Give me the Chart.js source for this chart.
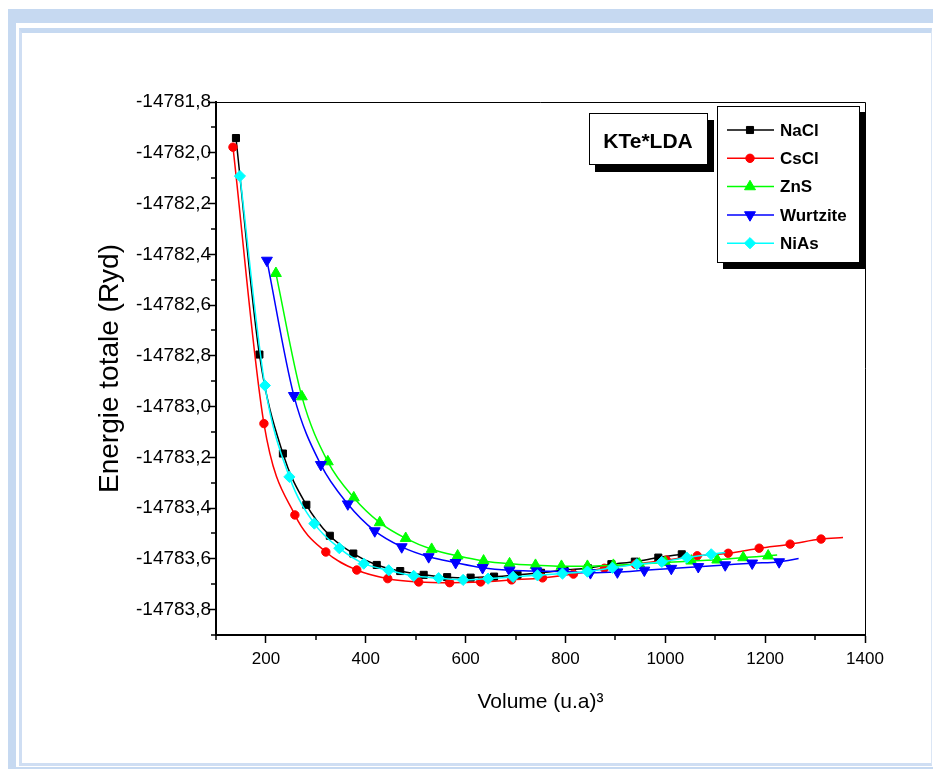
<!DOCTYPE html>
<html>
<head>
<meta charset="utf-8">
<script src="https://cdn.jsdelivr.net/npm/chart.js@4.4.1/dist/chart.umd.min.js"></script>
<style>
    html, body { margin: 0; padding: 0; background: #fff; }
    #page { position: relative; width: 933px; height: 769px; overflow: hidden; }
    .frame-outer { position: absolute; left: 8px; top: 9px; width: 940px; height: 800px;
        border-left: 8px solid #c6d9f1; border-top: 14px solid #c6d9f1; box-sizing: border-box; }
    .frame-bottom { position: absolute; left: 8px; top: 767px; width: 940px; height: 4px; background: #c6d9f1; }
    .frame-inner { position: absolute; left: 19px; top: 28px; width: 913px; height: 738px;
        border-left: 3px solid #cfdef3; border-top: 5px solid #c6d9f1; border-bottom: 3px solid #cfdef3;
        border-right: 1px solid #dbe6f5; box-sizing: border-box; }
    canvas { position: absolute; left: 0; top: 0; }
</style>
</head>
<body>
<div id="page">
    <div class="frame-outer"></div>
    <div class="frame-bottom"></div>
    <div class="frame-inner"></div>
    <canvas id="eos-chart" width="933" height="769"></canvas>
</div>
<script>
// Series names and volumes / energies
const seriesNames = ['NaCl', 'CsCl', 'ZnS', 'Wurtzite', 'NiAs'];

const naclV = [140, 187, 234, 281, 328, 375, 422, 469, 516, 563, 610, 657, 704, 751, 798, 845, 892, 939, 986, 1033];
const naclE = [-14781.942, -14782.795, -14783.185, -14783.387, -14783.509, -14783.579, -14783.624, -14783.648, -14783.663, -14783.672,
    -14783.674, -14783.670, -14783.663, -14783.655, -14783.644, -14783.637, -14783.621, -14783.611, -14783.595, -14783.582];

const csclV = [134, 196, 258, 320, 382, 444, 506, 568, 630, 692, 754, 816, 878, 940, 1002, 1064, 1126, 1188, 1250, 1312];
const csclE = [-14781.978, -14783.067, -14783.427, -14783.573, -14783.644, -14783.678, -14783.691, -14783.694, -14783.691, -14783.683,
    -14783.675, -14783.660, -14783.637, -14783.621, -14783.605, -14783.588, -14783.578, -14783.558, -14783.542, -14783.522];

const znsV = [220, 272, 324, 376, 428, 480, 532, 584, 636, 688, 740, 792, 844, 896, 948, 1000, 1052, 1104, 1156, 1206];
const znsE = [-14782.475, -14782.961, -14783.217, -14783.359, -14783.457, -14783.519, -14783.562, -14783.588, -14783.608, -14783.619,
    -14783.625, -14783.629, -14783.629, -14783.625, -14783.620, -14783.614, -14783.608, -14783.604, -14783.595, -14783.588];

const wurV = [202, 256, 310, 364, 418, 472, 526, 580, 634, 688, 742, 796, 850, 904, 958, 1012, 1066, 1120, 1174, 1228];
const wurE = [-14782.424, -14782.957, -14783.229, -14783.384, -14783.490, -14783.553, -14783.592, -14783.615, -14783.635, -14783.645,
    -14783.648, -14783.650, -14783.655, -14783.652, -14783.645, -14783.638, -14783.631, -14783.624, -14783.617, -14783.612];

const niasV = [148, 198, 247, 297, 347, 396, 446, 496, 546, 595, 645, 695, 744, 794, 844, 894, 943, 993, 1043, 1092];
const niasE = [-14782.092, -14782.917, -14783.277, -14783.461, -14783.558, -14783.619, -14783.645, -14783.667, -14783.676, -14783.683,
    -14783.678, -14783.671, -14783.665, -14783.658, -14783.650, -14783.635, -14783.621, -14783.612, -14783.595, -14783.582];

// where the fitted curves run on past the last marker (no marker drawn there)
const fitEndV = [null, 1356, 1224, 1267, 1120];
const fitEndE = [null, -14783.516, -14783.585, -14783.599, -14783.575];

// axis ticks
const xTicks = [200, 400, 600, 800, 1000, 1200, 1400];
const xMinorTicks = [100, 300, 500, 700, 900, 1100, 1300];
const yTicks = [-14781.8, -14782.0, -14782.2, -14782.4, -14782.6, -14782.8, -14783.0, -14783.2, -14783.4, -14783.6, -14783.8];
const yMinorTicks = [-14781.9, -14782.1, -14782.3, -14782.5, -14782.7, -14782.9, -14783.1, -14783.3, -14783.5, -14783.7, -14783.9];

const FONT = '"Liberation Sans", Arial, Helvetica, sans-serif';

function makePoints(vols, ens, endV, endE) {
    const pts = vols.map((v, i) => ({ x: v, y: ens[i] }));
    if (endV !== null) pts.push({ x: endV, y: endE });
    return pts;
}

const styles = [
    { color: '#000000', pointStyle: 'rect', radius: 5, rotation: 0 },
    { color: '#ff0000', pointStyle: 'circle', radius: 4.2, rotation: 0 },
    { color: '#00ff00', pointStyle: 'triangle', radius: 6.3, rotation: 0 },
    { color: '#0000ff', pointStyle: 'triangle', radius: 6.3, rotation: 180 },
    { color: '#00ffff', pointStyle: 'rectRot', radius: 5.6, rotation: 0 }
];
const allV = [naclV, csclV, znsV, wurV, niasV];
const allE = [naclE, csclE, znsE, wurE, niasE];

const datasets = seriesNames.map((name, i) => {
    const n = allV[i].length;
    const st = styles[i];
    return {
        label: name,
        data: makePoints(allV[i], allE[i], fitEndV[i], fitEndE[i]),
        borderColor: st.color,
        backgroundColor: st.color,
        borderWidth: 1.5,
        pointStyle: st.pointStyle,
        pointRotation: st.rotation,
        pointRadius: ctx => (ctx.dataIndex < n ? st.radius : 0),
        pointBorderWidth: 1,
        cubicInterpolationMode: 'monotone',
        fill: false,
        order: seriesNames.length - 1 - i
    };
});

// top/right frame lines, minor ticks, label box and legend
const decorPlugin = {
    id: 'decor',
    afterDraw(chart) {
        const ctx = chart.ctx;
        const area = chart.chartArea;
        const xs = chart.scales.x;
        const ys = chart.scales.y;
        ctx.save();
        ctx.strokeStyle = '#000';
        ctx.lineWidth = 1;
        ctx.beginPath();
        ctx.moveTo(area.left, area.top + 0.5);
        ctx.lineTo(area.right + 0.5, area.top + 0.5);
        ctx.lineTo(area.right + 0.5, area.bottom);
        ctx.stroke();

        // minor ticks
        ctx.lineWidth = 1.5;
        ctx.beginPath();
        xMinorTicks.forEach(v => {
            const px = Math.round(xs.getPixelForValue(v));
            ctx.moveTo(px, area.bottom);
            ctx.lineTo(px, area.bottom + 5);
        });
        yMinorTicks.forEach(v => {
            const py = Math.round(ys.getPixelForValue(v));
            ctx.moveTo(area.left - 5, py);
            ctx.lineTo(area.left, py);
        });
        ctx.stroke();

        // "KTe*LDA" box with shadow
        ctx.fillStyle = '#000';
        ctx.fillRect(595, 120, 119, 52);
        ctx.fillStyle = '#fff';
        ctx.fillRect(589, 113, 118, 51);
        ctx.lineWidth = 1;
        ctx.strokeRect(589.5, 113.5, 118, 51);
        ctx.fillStyle = '#000';
        ctx.font = 'bold 21px ' + FONT;
        ctx.textAlign = 'center';
        ctx.textBaseline = 'middle';
        ctx.fillText('KTe*LDA', 648, 142);

        // legend box with shadow
        ctx.fillStyle = '#000';
        ctx.fillRect(723, 112, 143, 157);
        ctx.fillStyle = '#fff';
        ctx.fillRect(717, 106, 142, 156);
        ctx.strokeRect(717.5, 106.5, 142, 156);
        ctx.font = 'bold 17px ' + FONT;
        ctx.textAlign = 'left';
        chart.data.datasets.forEach((ds, i) => {
            const y = 130 + i * 28.3;
            ctx.strokeStyle = ds.borderColor;
            ctx.lineWidth = 1.5;
            ctx.beginPath();
            ctx.moveTo(727, y);
            ctx.lineTo(774, y);
            ctx.stroke();
            ctx.fillStyle = ds.backgroundColor;
            ctx.lineWidth = 1;
            Chart.helpers.drawPoint(ctx, {
                pointStyle: ds.pointStyle,
                rotation: ds.pointRotation,
                radius: styles[i].radius,
                borderWidth: 1
            }, 750, y);
            ctx.fillStyle = '#000';
            ctx.fillText(ds.label, 780, y + 1);
        });
        ctx.restore();
    }
};

const eosChart = new Chart(document.getElementById('eos-chart').getContext('2d'), {
    type: 'line',
    data: { datasets: datasets },
    plugins: [decorPlugin],
    options: {
        responsive: false,
        animation: false,
        events: [],
        layout: { padding: { left: 89, top: 102, right: 68, bottom: 50 } },
        plugins: {
            legend: { display: false },
            tooltip: { enabled: false }
        },
        scales: {
            x: {
                type: 'linear',
                min: 100,
                max: 1400,
                afterBuildTicks: scale => { scale.ticks = xTicks.map(v => ({ value: v })); },
                afterFit: scale => { scale.height = 84; },
                grid: { drawOnChartArea: false, tickLength: 8, tickWidth: 1.5, tickColor: '#000' },
                border: { display: true, color: '#000', width: 2 },
                ticks: {
                    color: '#000',
                    padding: 6,
                    maxRotation: 0,
                    font: { family: FONT, size: 17 },
                    callback: v => String(v)
                },
                title: {
                    display: true,
                    text: 'Volume (u.a)³',
                    color: '#000',
                    font: { family: FONT, size: 21 },
                    padding: { top: 4, bottom: 4 }
                }
            },
            y: {
                type: 'linear',
                min: -14783.9,
                max: -14781.8,
                afterBuildTicks: scale => { scale.ticks = yTicks.map(v => ({ value: v })); },
                afterFit: scale => { scale.width = 127; },
                grid: { drawOnChartArea: false, tickLength: 8, tickWidth: 1.5, tickColor: '#000' },
                border: { display: true, color: '#000', width: 2 },
                ticks: {
                    color: '#000',
                    padding: -3,
                    font: { family: FONT, size: 19 },
                    callback: v => v.toFixed(1).replace('.', ',')
                },
                title: {
                    display: true,
                    text: 'Energie totale (Ryd)',
                    color: '#000',
                    font: { family: FONT, size: 28 },
                    padding: { top: 4, bottom: 4 }
                }
            }
        }
    }
});
</script>
</body>
</html>
